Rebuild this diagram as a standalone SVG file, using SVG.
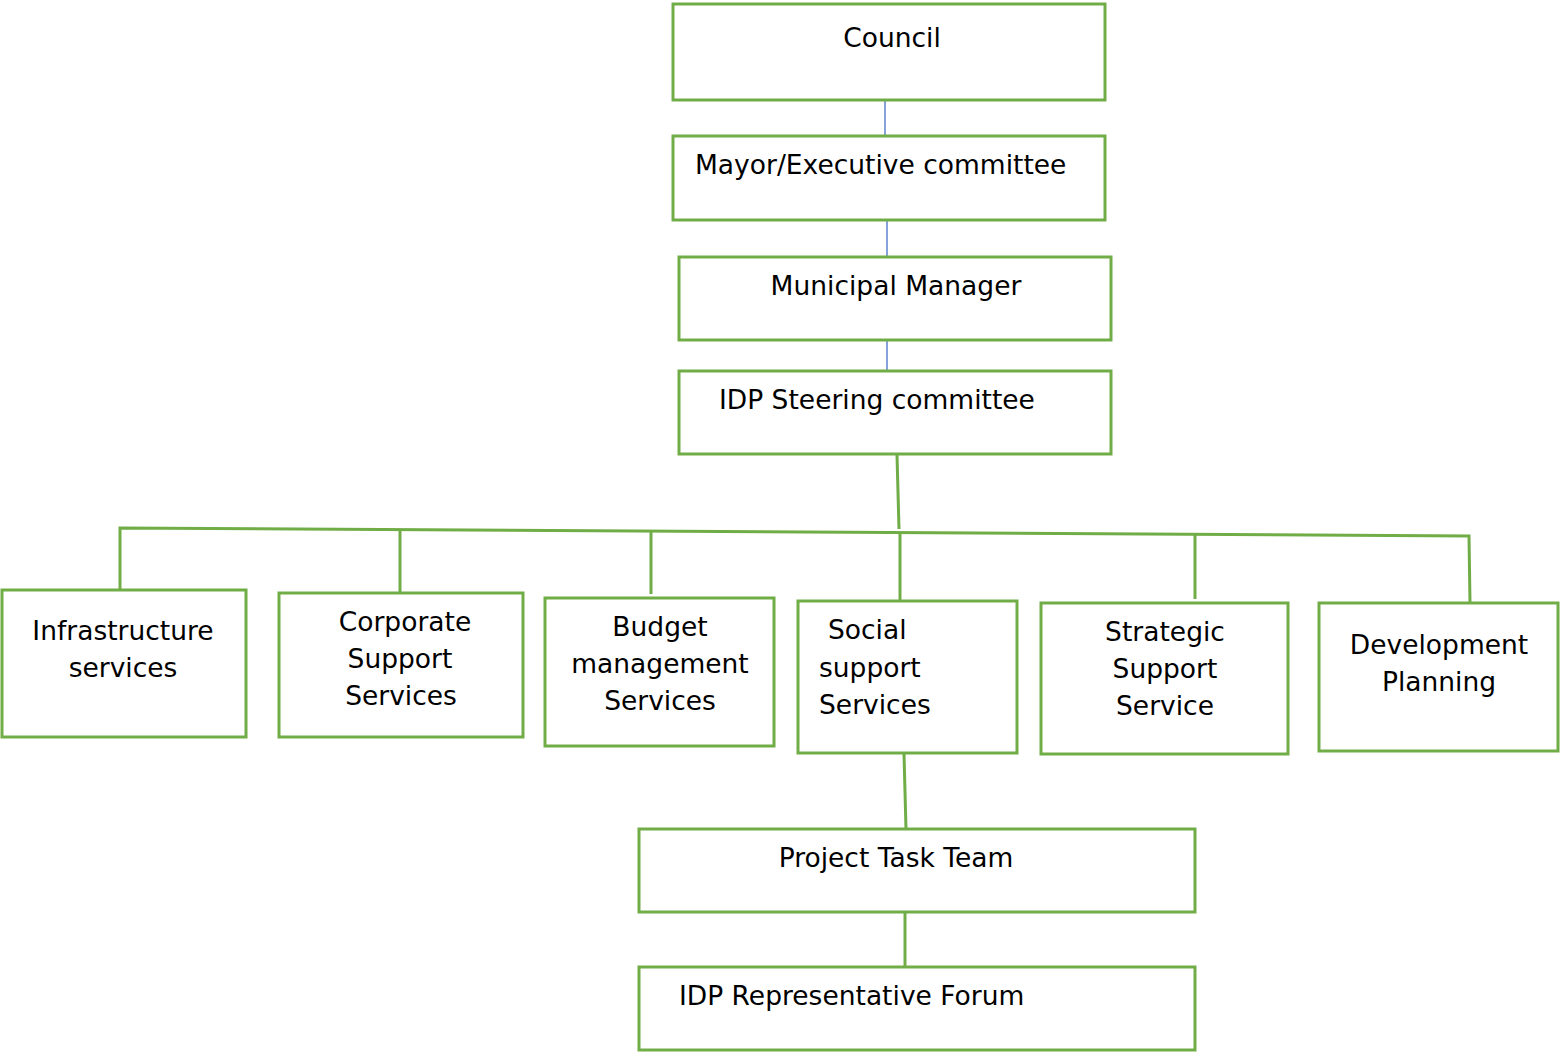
<svg xmlns="http://www.w3.org/2000/svg" width="1560" height="1052" viewBox="0 0 1560 1052">
<style>
.box{fill:#ffffff;stroke:#70ad47;stroke-width:3}
.g{fill:none;stroke:#70ad47;stroke-width:3}
.b{fill:none;stroke:#4472c4;stroke-width:1.3}
text{font-family:"DejaVu Sans","Verdana",sans-serif;font-size:26.5px;fill:#000}
.c{text-anchor:middle}
</style>
<rect width="1560" height="1052" fill="#ffffff"/>
<g id="connectors">
<line class="b" x1="885" y1="100" x2="885" y2="136"/>
<line class="b" x1="887" y1="220" x2="887" y2="257"/>
<line class="b" x1="887" y1="340" x2="887" y2="371"/>
<polyline class="g" points="897,455 899,529"/>
<polyline class="g" points="120,591 120,528 1469,536 1470,603"/>
<line class="g" x1="400" y1="530" x2="400" y2="593"/>
<line class="g" x1="651" y1="531" x2="651" y2="594"/>
<line class="g" x1="900" y1="532" x2="900" y2="601"/>
<line class="g" x1="1195" y1="535" x2="1195" y2="599"/>
<line class="g" x1="904" y1="754" x2="906" y2="829"/>
<line class="g" x1="905" y1="904" x2="905" y2="967"/>
</g>
<g id="council"><rect class="box" x="673" y="4" width="432" height="96"/><text class="c" x="892" y="47">Council</text></g>
<g id="mayor"><rect class="box" x="673" y="136" width="432" height="84"/><text x="695" y="174">Mayor/Executive committee</text></g>
<g id="mm"><rect class="box" x="679" y="257" width="432" height="83"/><text class="c" x="896" y="295">Municipal Manager</text></g>
<g id="idpsc"><rect class="box" x="679" y="371" width="432" height="83"/><text x="719" y="409">IDP Steering committee</text></g>
<g id="infra"><rect class="box" x="2" y="590" width="244" height="147"/><text class="c" x="123" y="640">Infrastructure</text><text class="c" x="123" y="677">services</text></g>
<g id="corp"><rect class="box" x="279" y="593" width="244" height="144"/><text class="c" x="405" y="631">Corporate</text><text class="c" x="400" y="668">Support</text><text class="c" x="401" y="705">Services</text></g>
<g id="budget"><rect class="box" x="545" y="598" width="229" height="148"/><text class="c" x="660" y="636">Budget</text><text class="c" x="660" y="673">management</text><text class="c" x="660" y="710">Services</text></g>
<g id="social"><rect class="box" x="798" y="601" width="219" height="152"/><text x="828" y="639">Social</text><text x="819" y="677">support</text><text x="819" y="714">Services</text></g>
<g id="strategic"><rect class="box" x="1041" y="603" width="247" height="151"/><text class="c" x="1165" y="641">Strategic</text><text class="c" x="1165" y="678">Support</text><text class="c" x="1165" y="715">Service</text></g>
<g id="dev"><rect class="box" x="1319" y="603" width="239" height="148"/><text class="c" x="1439" y="654">Development</text><text class="c" x="1439" y="691">Planning</text></g>
<g id="ptt"><rect class="box" x="639" y="829" width="556" height="83"/><text class="c" x="896" y="867">Project Task Team</text></g>
<g id="idprf"><rect class="box" x="639" y="967" width="556" height="83"/><text x="679" y="1005">IDP Representative Forum</text></g>
</svg>
